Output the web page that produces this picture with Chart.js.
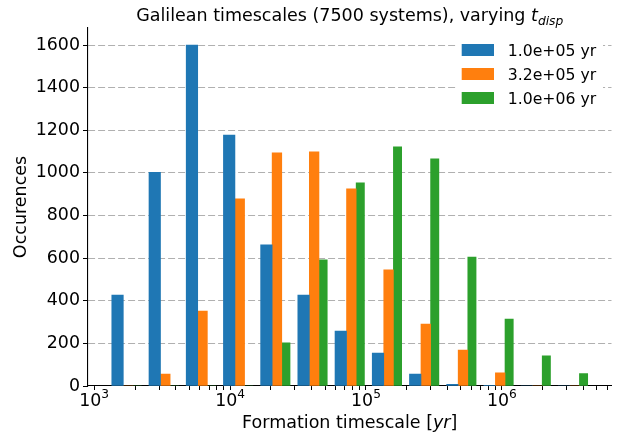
<!DOCTYPE html>
<html>
<head>
<meta charset="utf-8">
<script src="https://cdn.jsdelivr.net/npm/chart.js@4"></script>
<style>
  html, body { margin: 0; padding: 0; background: #fff; }
</style>
</head>
<body>
<canvas id="histChart" width="628" height="436"></canvas>
<script>
// histogram bin edges of the formation timescale [yr] (log spaced)
var binEdges = [1239, 2327, 4371, 8212, 15430, 28970, 54420, 102200, 192100, 360800, 677600, 1273000, 2391000, 4492000];

// one series per dispersal time
var seriesLabels = ['1.0e+05 yr', '3.2e+05 yr', '1.0e+06 yr'];
var seriesColors = ['#1f77b4', '#ff7f0e', '#2ca02c'];
var countsShort = [427, 1003, 1600, 1178, 662, 427, 258, 155, 56, 8, 2, 0, 0];
var countsMid   = [0, 56, 352, 878, 1094, 1099, 925, 545, 291, 168, 62, 0, 0];
var countsLong  = [0, 0, 0, 0, 202, 592, 953, 1122, 1066, 605, 314, 142, 58];

// axis ticks
var yTicks = [0, 200, 400, 600, 800, 1000, 1200, 1400, 1600];
var xMajorTicks = [1e3, 1e4, 1e5, 1e6];
var xMajorExp = ['3', '4', '5', '6'];

var FONT = 'DejaVu Sans';
var allCounts = [countsShort, countsMid, countsLong];

// matplotlib style hist: 3 bars share 80% of each bin
function barSpan(i, k) {
    var w = binEdges[i + 1] - binEdges[i];
    var lo = binEdges[i] + w * (0.1 + k * 0.8 / 3);
    return [lo, lo + w * 0.8 / 3];
}

function toPoints(counts, k) {
    return counts.map(function (c, i) {
        var s = barSpan(i, k);
        return { x: Math.sqrt(s[0] * s[1]), y: c };
    });
}

// axis limits with 5% margins (log space for x)
var logLo = Math.log10(barSpan(0, 0)[0]);
var logHi = Math.log10(barSpan(binEdges.length - 2, 2)[1]);
var xPad = 0.05 * (logHi - logLo);
var xMin = Math.pow(10, logLo - xPad);
var xMax = Math.pow(10, logHi + xPad);
var yMax = 1.05 * Math.max.apply(null, countsShort.concat(countsMid, countsLong));

function xTickValues() {
    var vals = [];
    for (var e = 2; e <= 7; e++) {
        for (var m = 1; m <= 9; m++) {
            var v = m * Math.pow(10, e);
            if (v >= xMin && v <= xMax) vals.push(v);
        }
    }
    return vals;
}

function drawRich(ctx, parts, cx, baseline) {
    var total = 0;
    parts.forEach(function (p) {
        ctx.font = p.font;
        p.w = ctx.measureText(p.text).width;
        total += p.w;
    });
    var x = cx - total / 2;
    ctx.textAlign = 'left';
    ctx.textBaseline = 'alphabetic';
    ctx.fillStyle = '#000';
    parts.forEach(function (p) {
        ctx.font = p.font;
        ctx.fillText(p.text, x, baseline + (p.dy || 0));
        x += p.w;
    });
}

// title, x label with math parts, x tick labels and the legend
var textPlugin = {
    id: 'mplText',
    afterDraw: function (chart) {
        var ctx = chart.ctx;
        var area = chart.chartArea;
        var cx = (area.left + area.right) / 2;
        ctx.save();

        drawRich(ctx, [
            { text: 'Galilean timescales (7500 systems), varying ', font: '17.5px ' + FONT },
            { text: 't', font: 'italic 17.5px ' + FONT },
            { text: 'disp', font: 'italic 12.3px ' + FONT, dy: 3.5 }
        ], cx, 21);

        drawRich(ctx, [
            { text: 'Formation timescale [', font: '17.5px ' + FONT },
            { text: 'yr', font: 'italic 17.5px ' + FONT },
            { text: ']', font: '17.5px ' + FONT }
        ], cx, 428);

        var xs = chart.scales.x;
        xMajorTicks.forEach(function (v, i) {
            drawRich(ctx, [
                { text: '10', font: '17.4px ' + FONT },
                { text: xMajorExp[i], font: '12.2px ' + FONT, dy: -8 }
            ], xs.getPixelForValue(v), 406);
        });

        // legend box
        var bx = area.right - 154.5, by = area.top + 7;
        ctx.fillStyle = '#fff';
        ctx.fillRect(bx, by, 146, 76);
        seriesLabels.forEach(function (lab, k) {
            var cy = area.top + 22 + k * 24;
            ctx.fillStyle = seriesColors[k];
            ctx.fillRect(bx + 4.7, cy - 6, 32.3, 12);
            ctx.fillStyle = '#000';
            ctx.font = '15.7px ' + FONT;
            ctx.textAlign = 'left';
            ctx.textBaseline = 'alphabetic';
            ctx.fillText(lab, bx + 50.7, cy + 6.3);
        });
        ctx.restore();
    }
};

var datasets = allCounts.map(function (counts, k) {
    return {
        label: seriesLabels[k],
        data: toPoints(counts, k),
        backgroundColor: seriesColors[k],
        borderWidth: 0,
        grouped: false,
        barThickness: function (ctx) {
            var xs = ctx.chart.scales.x;
            if (!xs || !xs.width) return 10;
            var s = barSpan(0, ctx.datasetIndex);
            return xs.getPixelForValue(s[1]) - xs.getPixelForValue(s[0]);
        }
    };
});

var histChart = new Chart(document.getElementById('histChart').getContext('2d'), {
    type: 'bar',
    data: { datasets: datasets },
    plugins: [textPlugin],
    options: {
        responsive: false,
        animation: false,
        devicePixelRatio: 1,
        layout: { padding: { left: 0, right: 16.5, top: 28, bottom: 0 } },
        plugins: {
            legend: { display: false },
            title: { display: false },
            tooltip: { enabled: false }
        },
        scales: {
            x: {
                type: 'logarithmic',
                min: xMin,
                max: xMax,
                offset: false,
                afterBuildTicks: function (scale) {
                    scale.ticks = xTickValues().map(function (v) { return { value: v }; });
                },
                afterFit: function (scale) { scale.height = 50; },
                grid: {
                    offset: false,
                    drawOnChartArea: false,
                    drawTicks: true,
                    tickLength: 4,
                    tickColor: '#000',
                    tickWidth: 1
                },
                border: { display: true, color: '#000', width: 1.1 },
                ticks: {
                    autoSkip: false,
                    maxRotation: 0,
                    callback: function () { return ''; }
                }
            },
            y: {
                min: 0,
                max: yMax,
                z: 1,
                afterBuildTicks: function (scale) {
                    scale.ticks = yTicks.map(function (v) { return { value: v }; });
                },
                afterFit: function (scale) { scale.width = 88; },
                grid: {
                    color: function (ctx) {
                        return ctx.tick && ctx.tick.value === 0 ? 'rgba(0,0,0,0)' : '#b0b0b0';
                    },
                    lineWidth: 1,
                    drawTicks: true,
                    tickLength: 5,
                    tickColor: '#000',
                    tickBorderDash: [],
                    tickWidth: 1
                },
                border: { display: true, color: '#000', width: 1.1, dash: [7, 3] },
                ticks: {
                    color: '#000',
                    padding: 3,
                    font: { family: FONT, size: 17.4 },
                    callback: function (v) { return String(v); }
                },
                title: {
                    display: true,
                    text: 'Occurences',
                    color: '#000',
                    font: { family: FONT, size: 17.5 },
                    padding: { top: 10.5, bottom: 0 }
                }
            }
        }
    }
});
</script>
</body>
</html>
